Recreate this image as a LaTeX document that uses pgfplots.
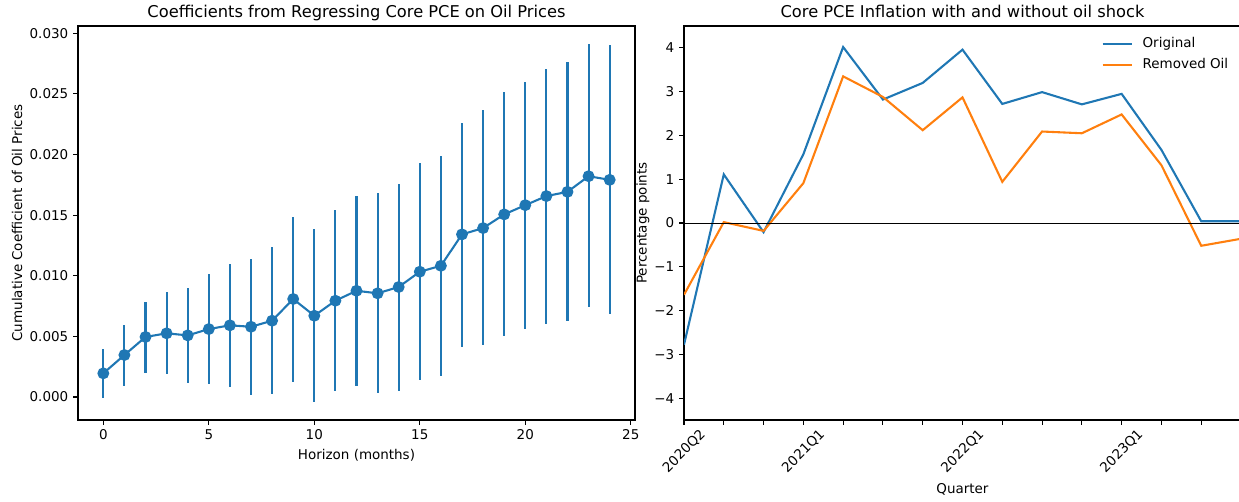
\documentclass[border=0pt]{standalone}
\usepackage{fontspec}
\setmainfont{DejaVu Sans}
\usepackage{pgfplots}
\pgfplotsset{compat=1.18}
\usepackage{pgfplotstable}
\definecolor{mblue}{HTML}{1F77B4}
\definecolor{morange}{HTML}{FF7F0E}

\pgfplotstableread{
x y hi lo
0 0.00195 0.00393 -0.00010
1 0.00346 0.00593 0.00093
2 0.00495 0.00786 0.00200
3 0.00525 0.00863 0.00187
4 0.00508 0.00901 0.00118
5 0.00560 0.01016 0.00104
6 0.00591 0.01094 0.00085
7 0.00579 0.01137 0.00016
8 0.00629 0.01234 0.00025
9 0.00808 0.01486 0.00126
10 0.00670 0.01387 -0.00044
11 0.00794 0.01539 0.00052
12 0.00876 0.01657 0.00093
13 0.00855 0.01679 0.00030
14 0.00907 0.01756 0.00052
15 0.01033 0.01926 0.00143
16 0.01082 0.01989 0.00171
17 0.01341 0.02261 0.00415
18 0.01393 0.02363 0.00426
19 0.01506 0.02514 0.00500
20 0.01582 0.02599 0.00558
21 0.01657 0.02706 0.00599
22 0.01692 0.02759 0.00624
23 0.01821 0.02909 0.00739
24 0.01791 0.02901 0.00682
}\coefdata

\pgfplotstableread{
q orig rem
0 -2.78 -1.64
1 1.11 0.02
2 -0.21 -0.18
3 1.57 0.91
4 4.02 3.35
5 2.82 2.88
6 3.20 2.12
7 3.96 2.87
8 2.72 0.94
9 2.99 2.09
10 2.71 2.05
11 2.95 2.48
12 1.67 1.32
13 0.04 -0.52
14 0.04 -0.36
}\pcedata

\pgfplotsset{
  mpl/.style={
    scale only axis,
    width=401.04pt, height=283.68pt,
    axis line style={line width=0.8pt, black},
    tick align=outside, tick pos=left,
    major tick length=3.5pt,
    every tick/.style={black, line width=0.8pt},
    tick label style={font=\fontsize{9.7}{11.6}\selectfont},
    label style={font=\fontsize{9.7}{11.6}\selectfont},
    every axis title/.style={at={(0.5,1)}, anchor=base, yshift=5.8pt, font=\fontsize{11.7}{14}\selectfont},
    /pgf/number format/assume math mode=true,
    scaled ticks=false,
  }
}

\begin{document}
\begin{tikzpicture}
\begin{axis}[mpl,
  xmin=-1.2, xmax=25.2, ymin=-0.0019, ymax=0.0306,
  xtick={0,5,10,15,20,25},
  ytick={0,0.005,0.01,0.015,0.02,0.025,0.03},
  yticklabels={0.000,0.005,0.010,0.015,0.020,0.025,0.030},
  title={Coefficients from Regressing Core PCE on Oil Prices},
  xlabel={Horizon (months)},
  ylabel={Cumulative Coefficient of Oil Prices},
  xlabel style={at={(axis description cs:0.5,0)}, anchor=base, yshift=-28.1pt},
  ylabel style={at={([xshift=-40.3pt]axis description cs:0,0.5)}, anchor=base, rotate=0},
]
\addplot[mblue, line width=1.5pt, mark=*, mark size=3.5pt,
  mark options={solid, fill=mblue, draw=mblue},
  error bars/.cd, y dir=both, y explicit, error mark=none,
  error bar style={line width=1.5pt, mblue}]
  table[x=x, y=y, y error plus expr=\thisrow{hi}-\thisrow{y}, y error minus expr=\thisrow{y}-\thisrow{lo}] {\coefdata};
\end{axis}

\begin{axis}[mpl, at={(436.32pt,0pt)},
  xmin=0, xmax=14, ymin=-4.5, ymax=4.5,
  xtick={0,1,2,3,4,5,6,7,8,9,10,11,12,13,14},
  xticklabels={2020Q2,{},{},2021Q1,{},{},{},2022Q1,{},{},{},2023Q1,{},{},{}},
  xticklabel style={yshift=-19pt, rotate=45, anchor=center},
  ytick={-4,-3,-2,-1,0,1,2,3,4},
  yticklabels={−4,−3,−2,−1,0,1,2,3,4},
  title={Core PCE Inflation with and without oil shock},
  xlabel={Quarter},
  ylabel={Percentage points},
  xlabel style={at={(axis description cs:0.5,0)}, anchor=base, yshift=-52.6pt},
  ylabel style={at={([xshift=-26.9pt]axis description cs:0,0.5)}, anchor=base, rotate=0},
  legend cell align=left,
  legend style={draw=none, fill=none, at={(axis description cs:1,1)}, anchor=north east,
    xshift=-4pt, yshift=-4pt, font=\fontsize{9.7}{11.6}\selectfont, row sep=2.3pt,
    /tikz/every odd column/.append style={column sep=5pt}},
  legend image code/.code={\draw[#1] (0pt,0pt) -- (21pt,0pt);},
]
\addplot[mblue, line width=1.5pt] table[x=q, y=orig] {\pcedata};
\addlegendentry{Original}
\addplot[morange, line width=1.5pt] table[x=q, y=rem] {\pcedata};
\addlegendentry{Removed Oil}
\addplot[black, line width=0.7pt, forget plot] coordinates {(0,0) (14,0)};
\end{axis}
\pgfresetboundingbox
\path (-56.16pt,-59.04pt) rectangle (835.92pt,302.4pt);
\end{tikzpicture}
\end{document}
